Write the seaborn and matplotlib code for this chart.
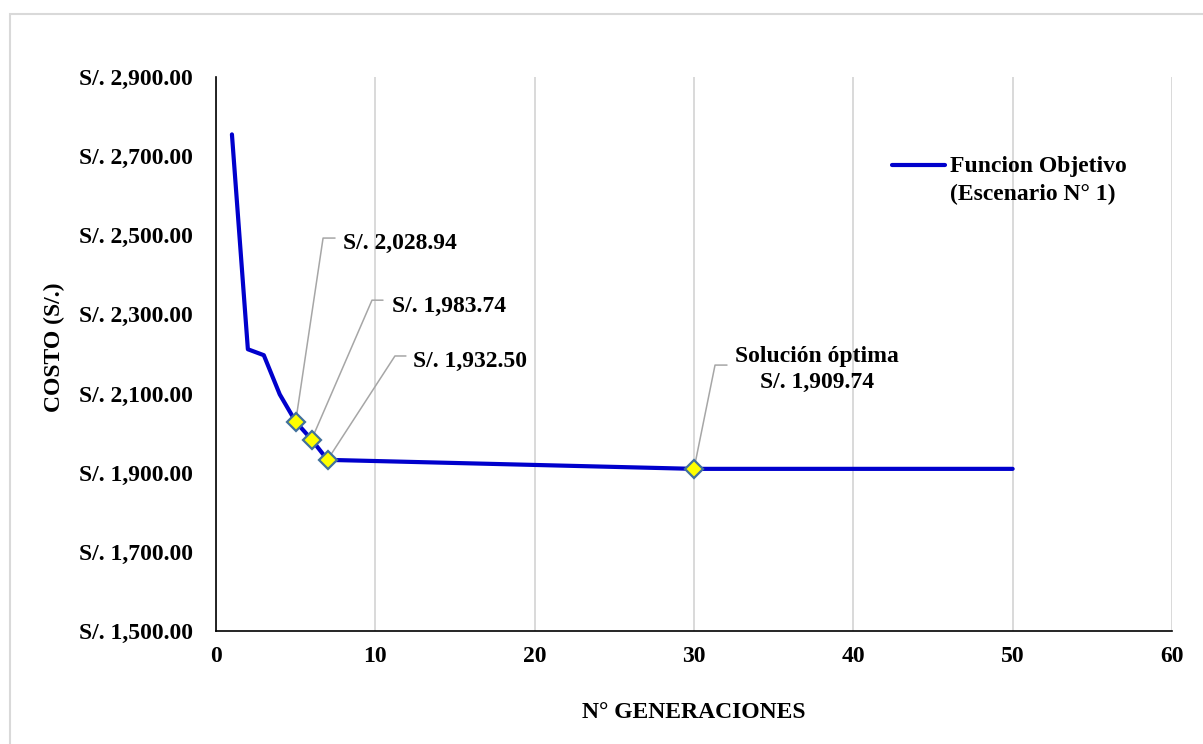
import matplotlib
matplotlib.use("Agg")
import matplotlib.pyplot as plt
import seaborn as sns
import pandas as pd
from matplotlib.patches import Rectangle

generaciones = [1, 2, 3, 4, 5, 6, 7, 30, 50]
costo = [2755.0, 2212.0, 2197.0, 2098.0, 2028.94, 1983.74, 1932.50, 1909.74, 1909.74]
hi_x = [5, 6, 7, 30]
hi_y = [2028.94, 1983.74, 1932.50, 1909.74]
hi_labels = ["S/. 2,028.94", "S/. 1,983.74", "S/. 1,932.50", "Solución óptima\nS/. 1,909.74"]
y_ticks = [1500, 1700, 1900, 2100, 2300, 2500, 2700, 2900]
x_ticks = [0, 10, 20, 30, 40, 50, 60]

sns.set_theme(style="white")
plt.rcParams['font.family'] = ['Liberation Serif', 'DejaVu Serif']
plt.rcParams['font.weight'] = 'bold'
for k in ['text.color', 'axes.labelcolor', 'xtick.color', 'ytick.color']:
    plt.rcParams[k] = 'black'

fig = plt.figure(figsize=(12.03, 7.44), dpi=100)
fig.patches.append(Rectangle((10/1203, -0.01), 1.02 - 10/1203, 1.01 - 14/744, transform=fig.transFigure,
                             fill=False, edgecolor='#d9d9d9', linewidth=1.5))
ax = fig.add_axes([216/1203, 1 - 631/744, (1172 - 216)/1203, (631 - 77)/744])

df = pd.DataFrame({"gen": generaciones, "costo": costo})
sns.lineplot(data=df, x="gen", y="costo", ax=ax, color='#0000CC', linewidth=3,
             label="Funcion Objetivo\n(Escenario N° 1)")
ax.plot(hi_x, hi_y, linestyle='none', marker='D', markersize=9, markerfacecolor='#FFFF00',
        markeredgecolor='#41719C', markeredgewidth=1.6, zorder=5)

ax.set_xlim(0, 60)
ax.set_ylim(1500, 2900)
ax.set_xticks(x_ticks)
ax.set_yticks(y_ticks)
ax.set_xticklabels([str(v) for v in x_ticks], fontsize=17, fontweight='bold')
ax.set_yticklabels([f"S/. {v:,.2f}" for v in y_ticks], fontsize=17, fontweight='bold')
ax.tick_params(axis='y', length=0, pad=16.5)
ax.tick_params(axis='x', length=0, pad=11)
ax.grid(axis='x', color='#d9d9d9', linewidth=1.4)
ax.grid(axis='y', visible=False)
for s in ['top', 'right']:
    ax.spines[s].set_visible(False)
for s in ['left', 'bottom']:
    ax.spines[s].set_color('black')
    ax.spines[s].set_linewidth(1.2)

ax.set_xlabel("N° GENERACIONES", fontsize=17, fontweight='bold')
ax.set_ylabel("COSTO (S/.)", fontsize=17, fontweight='bold')
ax.xaxis.set_label_coords(0.5, (631 - 702) / 554)
ax.yaxis.set_label_coords((65 - 216) / 956, (631 - 347) / 554)

# annotations: text anchor and elbow (start, end) in data coords
text_pos = [(7.97, 2480), (11.05, 2320), (12.36, 2180), (37.72, 2160)]
elbow = [((6.72, 7.47), 2493), ((9.79, 10.48), 2336), ((11.23, 11.92), 2195), ((31.32, 32.07), 2172)]
has = ['left', 'left', 'left', 'center']
for x, y, lab, (tx, ty), ((e0, e1), ey), ha in zip(hi_x, hi_y, hi_labels, text_pos, elbow, has):
    ax.plot([x, e0, e1], [y, ey, ey], color='#a6a6a6', linewidth=1.1, zorder=3)
    ax.text(tx, ty, lab, fontsize=17, fontweight='bold', ha=ha, va='center', linespacing=1.3,
            multialignment='center')

leg = ax.legend(loc='upper left', bbox_to_anchor=((892 - 216) / 956, (631 - 156) / 554),
                frameon=False, fontsize=17, handlelength=2.25, handletextpad=0.21,
                borderpad=0, borderaxespad=0)
for t in leg.get_texts():
    t.set_fontweight('bold')
    t.set_linespacing(1.4)
h = leg.legend_handles[0]
h.set_ydata([v + 11 for v in h.get_ydata()])

fig.savefig("out.png", dpi=100)
